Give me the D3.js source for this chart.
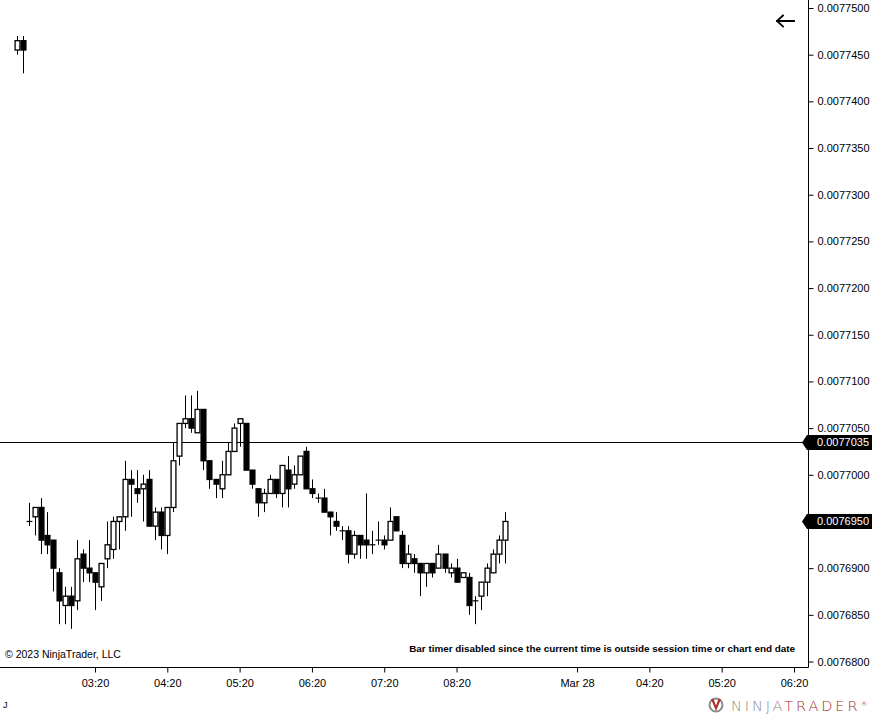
<!DOCTYPE html>
<html>
<head>
<meta charset="utf-8">
<script src="https://cdn.jsdelivr.net/npm/d3@7"></script>
<style>
  html, body { margin: 0; padding: 0; background: #fff; }
  svg { display: block; font-family: "Liberation Sans", Arial, sans-serif; }
</style>
</head>
<body>
<svg id="chart" width="874" height="714"></svg>
<script>
// ---- Data (5-minute bars, Mar 27) ----
const barTimes = ["02:15","02:20","02:25","02:30","02:35","02:40","02:45","02:50","02:55","03:00","03:05","03:10","03:15",
  "03:20","03:25","03:30","03:35","03:40","03:45","03:50","03:55","04:00","04:05","04:10","04:15",
  "04:20","04:25","04:30","04:35","04:40","04:45","04:50","04:55","05:00","05:05","05:10","05:15",
  "05:20","05:25","05:30","05:35","05:40","05:45","05:50","05:55","06:00","06:05","06:10","06:15",
  "06:20","06:25","06:30","06:35","06:40","06:45","06:50","06:55","07:00","07:05","07:10","07:15",
  "07:20","07:25","07:30","07:35","07:40","07:45","07:50","07:55","08:00","08:05","08:10","08:15",
  "08:20","08:25","08:30","08:35","08:40","08:45","08:50","08:55","09:00"];

const opens = [0.0077455,0.0077465,0.0076950,0.0076955,0.0076965,0.0076935,0.0076930,0.0076895,0.0076860,0.0076870,0.0076865,0.0076915,0.0076900,
  0.0076895,0.0076880,0.0076910,0.0076920,0.0076950,0.0076955,0.0076995,0.0076985,0.0076985,0.0076995,0.0076945,0.0076960,
  0.0076935,0.0076965,0.0077020,0.0077055,0.0077060,0.0077045,0.0077070,0.0077015,0.0076995,0.0076985,0.0077000,0.0077025,
  0.0077055,0.0077055,0.0077005,0.0076985,0.0076970,0.0076980,0.0076995,0.0076980,0.0077005,0.0076990,0.0077000,0.0077025,
  0.0076985,0.0076975,0.0076975,0.0076960,0.0076950,0.0076940,0.0076940,0.0076915,0.0076935,0.0076930,0.0076925,0.0076930,
  0.0076930,0.0076930,0.0076955,0.0076935,0.0076905,0.0076910,0.0076905,0.0076895,0.0076905,0.0076900,0.0076915,0.0076895,
  0.0076900,0.0076890,0.0076890,0.0076865,0.0076870,0.0076885,0.0076895,0.0076915,0.0076930];

const highs = [0.0077470,0.0077470,0.0076970,0.0076965,0.0076975,0.0076960,0.0076930,0.0076900,0.0076880,0.0076880,0.0076930,0.0076920,0.0076930,
  0.0076895,0.0076905,0.0076950,0.0076955,0.0076955,0.0077015,0.0077005,0.0077005,0.0077000,0.0077005,0.0076965,0.0076965,
  0.0076965,0.0077035,0.0077055,0.0077085,0.0077085,0.0077090,0.0077070,0.0077015,0.0076995,0.0077015,0.0077035,0.0077055,
  0.0077060,0.0077055,0.0077005,0.0076985,0.0076985,0.0077000,0.0076995,0.0077010,0.0077020,0.0077010,0.0077020,0.0077030,
  0.0076995,0.0076980,0.0076985,0.0076960,0.0076960,0.0076945,0.0076945,0.0076940,0.0076935,0.0076980,0.0076940,0.0076950,
  0.0076935,0.0076965,0.0076955,0.0076940,0.0076925,0.0076915,0.0076905,0.0076905,0.0076905,0.0076925,0.0076915,0.0076905,
  0.0076910,0.0076895,0.0076895,0.0076870,0.0076885,0.0076905,0.0076920,0.0076935,0.0076960];

const lows = [0.0077450,0.0077430,0.0076945,0.0076935,0.0076915,0.0076915,0.0076875,0.0076840,0.0076840,0.0076835,0.0076855,0.0076885,0.0076885,
  0.0076855,0.0076865,0.0076900,0.0076910,0.0076920,0.0076940,0.0076955,0.0076970,0.0076950,0.0076945,0.0076930,0.0076920,
  0.0076915,0.0076960,0.0077010,0.0077050,0.0077045,0.0077045,0.0077005,0.0076985,0.0076975,0.0076975,0.0077000,0.0077025,
  0.0077030,0.0077005,0.0076985,0.0076955,0.0076960,0.0076980,0.0076975,0.0076965,0.0076965,0.0076985,0.0077000,0.0076985,
  0.0076975,0.0076970,0.0076960,0.0076935,0.0076940,0.0076930,0.0076905,0.0076910,0.0076910,0.0076910,0.0076915,0.0076925,
  0.0076920,0.0076930,0.0076940,0.0076900,0.0076900,0.0076895,0.0076870,0.0076880,0.0076890,0.0076900,0.0076895,0.0076890,
  0.0076885,0.0076890,0.0076850,0.0076840,0.0076855,0.0076870,0.0076895,0.0076905,0.0076905];

const closes = [0.0077465,0.0077455,0.0076950,0.0076965,0.0076930,0.0076925,0.0076900,0.0076865,0.0076870,0.0076860,0.0076910,0.0076900,0.0076895,
  0.0076885,0.0076905,0.0076925,0.0076950,0.0076955,0.0076995,0.0076990,0.0076980,0.0076990,0.0076945,0.0076960,0.0076935,
  0.0076965,0.0077015,0.0077055,0.0077060,0.0077050,0.0077070,0.0077015,0.0076995,0.0076990,0.0077000,0.0077025,0.0077050,
  0.0077060,0.0077005,0.0076990,0.0076970,0.0076980,0.0076995,0.0076980,0.0077010,0.0076985,0.0077000,0.0077020,0.0076985,
  0.0076980,0.0076975,0.0076960,0.0076955,0.0076945,0.0076940,0.0076915,0.0076935,0.0076925,0.0076925,0.0076925,0.0076930,
  0.0076925,0.0076950,0.0076940,0.0076905,0.0076915,0.0076905,0.0076895,0.0076905,0.0076895,0.0076915,0.0076900,0.0076900,
  0.0076885,0.0076895,0.0076860,0.0076865,0.0076885,0.0076900,0.0076915,0.0076930,0.0076950];

// axis ticks
const priceTicks = [0.0077500,0.0077450,0.0077400,0.0077350,0.0077300,0.0077250,0.0077200,0.0077150,
  0.0077100,0.0077050,0.0077000,0.0076950,0.0076900,0.0076850,0.0076800];
const timeTickDays = [27,27,27,27,27,27,28,28,28,28];
const timeTickTimes = ["03:20","04:20","05:20","06:20","07:20","08:20","03:20","04:20","05:20","06:20"];
const timeTickLabels = ["03:20","04:20","05:20","06:20","07:20","08:20","Mar 28","04:20","05:20","06:20"];
const markerPrice = 0.0077035;     // horizontal line / tag
const lastPrice = closes[closes.length - 1];

// ---- Chart ----
const W = 874, H = 714;
const plotRight = 808, plotBottom = 667.5;
const svg = d3.select("#chart");

// Equidistant bar axis: the next session (Mar 28) follows 400 minutes after Mar 27 on the axis
function axisMinutes(day, t) {
  const [h, m] = t.split(":").map(Number);
  return h * 60 + m + (day === 28 ? 400 : 0);
}
const x = d3.scaleLinear().domain([axisMinutes(27, "03:20"), axisMinutes(28, "06:20")]).range([95, 794]);
const y = d3.scaleLinear().domain([0.00768, 0.00775]).range([661.5, 8]);
const slot = x(axisMinutes(27, "03:25")) - x(axisMinutes(27, "03:20"));
const bodyW = slot - 1.2;

const bars = barTimes.map((t, i) => ({
  x: x(axisMinutes(27, t)), o: opens[i], h: highs[i], l: lows[i], c: closes[i]
}));

// horizontal line
svg.append("line")
  .attr("x1", 0).attr("x2", plotRight)
  .attr("y1", Math.round(y(markerPrice)) + 0.5).attr("y2", Math.round(y(markerPrice)) + 0.5)
  .attr("stroke", "#000").attr("stroke-width", 1);

// candles
const cg = svg.append("g");
cg.selectAll("line.wick").data(bars).join("line")
  .attr("class", "wick")
  .attr("x1", d => Math.round(d.x) + 0.5).attr("x2", d => Math.round(d.x) + 0.5)
  .attr("y1", d => y(d.h)).attr("y2", d => y(d.l))
  .attr("stroke", "#000").attr("stroke-width", 1);

cg.selectAll("rect.body").data(bars.filter(d => d.o !== d.c)).join("rect")
  .attr("class", "body")
  .attr("x", d => Math.round(d.x) + 0.5 - bodyW / 2)
  .attr("width", bodyW)
  .attr("y", d => y(Math.max(d.o, d.c)))
  .attr("height", d => Math.abs(y(d.o) - y(d.c)))
  .attr("fill", d => d.c > d.o ? "#fff" : "#000")
  .attr("stroke", "#000").attr("stroke-width", 1.3);

cg.selectAll("line.doji").data(bars.filter(d => d.o === d.c)).join("line")
  .attr("class", "doji")
  .attr("x1", d => Math.round(d.x) + 0.5 - bodyW / 2 - 0.5)
  .attr("x2", d => Math.round(d.x) + 0.5 + bodyW / 2 + 0.5)
  .attr("y1", d => y(d.o)).attr("y2", d => y(d.o))
  .attr("stroke", "#000").attr("stroke-width", 1.2);

// axes
svg.append("line").attr("x1", plotRight + 0.5).attr("x2", plotRight + 0.5)
  .attr("y1", 0).attr("y2", plotBottom).attr("stroke", "#000");
svg.append("line").attr("x1", 0).attr("x2", plotRight + 0.5)
  .attr("y1", plotBottom).attr("y2", plotBottom).attr("stroke", "#000");

const yAxis = d3.axisRight(y).tickValues(priceTicks).tickSize(5).tickPadding(4)
  .tickFormat(d => d.toFixed(7));
const yg = svg.append("g").attr("transform", `translate(${plotRight + 0.5},0)`).call(yAxis);
yg.select(".domain").remove();
yg.selectAll("text").attr("font-size", 11).attr("fill", "#000")
  .attr("font-family", "Liberation Sans, Arial, sans-serif");
yg.selectAll("line").attr("stroke", "#000");

const tickVals = timeTickTimes.map((t, i) => axisMinutes(timeTickDays[i], t));
const xAxis = d3.axisBottom(x).tickValues(tickVals).tickSize(5).tickPadding(7)
  .tickFormat((d, i) => timeTickLabels[i]);
const xg = svg.append("g").attr("transform", `translate(0,${plotBottom})`).call(xAxis);
xg.select(".domain").remove();
xg.selectAll("text").attr("font-size", 11).attr("fill", "#000")
  .attr("font-family", "Liberation Sans, Arial, sans-serif");
xg.selectAll("line").attr("stroke", "#000");

// price tags
function tag(price) {
  const yy = Math.round(y(price)) + 0.5;
  svg.append("path")
    .attr("d", `M${plotRight - 6},${yy} L${plotRight - 1},${yy - 7.5} L${W - 2},${yy - 7.5} L${W - 2},${yy + 7.5} L${plotRight - 1},${yy + 7.5} Z`)
    .attr("fill", "#000");
  svg.append("text").attr("x", 817).attr("y", yy).attr("dy", "0.35em")
    .attr("font-size", 11).attr("fill", "#fff").text(price.toFixed(7));
}
tag(markerPrice);
tag(lastPrice);

// back arrow
svg.append("path")
  .attr("d", "M777,21 L794,21 M777,21 L783,15.5 M777,21 L783,26.5")
  .attr("fill", "none").attr("stroke", "#000").attr("stroke-width", 1.8).attr("stroke-linecap", "square");

// texts
svg.append("text").attr("x", 5).attr("y", 658).attr("font-size", 10.5).attr("fill", "#000")
  .text("© 2023 NinjaTrader, LLC");
svg.append("text").attr("x", 795).attr("y", 652).attr("text-anchor", "end")
  .attr("font-size", 9.9).attr("font-weight", "bold").attr("fill", "#000")
  .text("Bar timer disabled since the current time is outside session time or chart end date");
svg.append("text").attr("x", 3).attr("y", 708).attr("font-size", 9).attr("fill", "#000").text("J");

// NinjaTrader logo
const logo = svg.append("g");
logo.append("circle").attr("cx", 716).attr("cy", 705).attr("r", 6.5)
  .attr("fill", "none").attr("stroke", "#8a8a8a").attr("stroke-width", 2);
logo.append("path").attr("d", "M711,699 L716,711 L721,699 L718.5,699 L716,705.5 L713.5,699 Z").attr("fill", "#b0302c");
const lt = logo.append("text").attr("x", 731).attr("y", 710.5).attr("font-size", 14.5)
  .attr("letter-spacing", 2.9).attr("font-family", "DejaVu Sans, Liberation Sans, sans-serif").attr("font-weight", 300);
lt.append("tspan").attr("fill", "#8a8a8a").text("NINJA");
lt.append("tspan").attr("fill", "#a52a2a").text("TRADER");
lt.append("tspan").attr("fill", "#a52a2a").attr("font-size", 7).attr("dy", -5)
  .attr("letter-spacing", 0).text("®");
</script>
</body>
</html>
